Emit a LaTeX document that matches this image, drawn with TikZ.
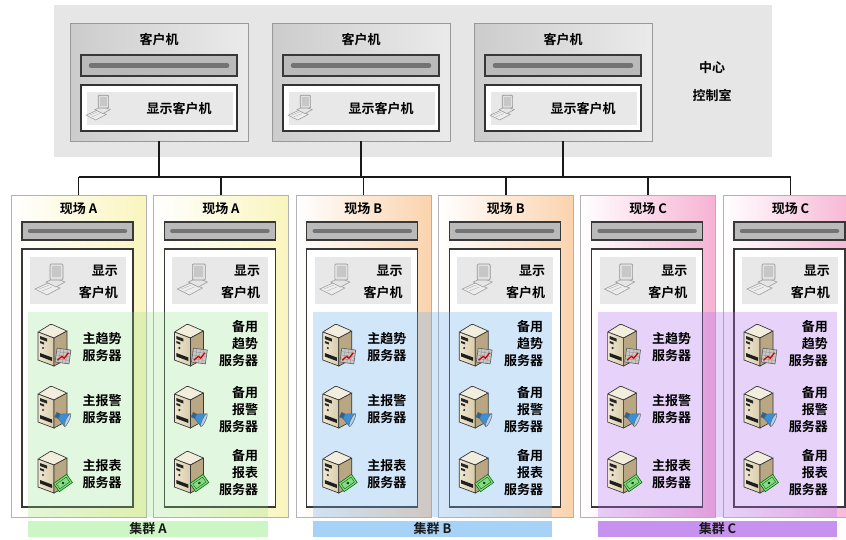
\documentclass[tikz,border=0pt]{standalone}
\usepackage{fontspec}
\setmainfont{Noto Sans CJK SC}[BoldFont={Noto Sans CJK SC Bold}]

\definecolor{roomgray}{HTML}{E6E6E6}
\definecolor{siteA}{HTML}{FAF5BE}
\definecolor{siteB}{HTML}{FBD3AE}
\definecolor{siteC}{HTML}{F6B2D3}
\definecolor{clA}{HTML}{8FE080}
\definecolor{clB}{HTML}{6AAEF0}
\definecolor{clC}{HTML}{B070F0}
\definecolor{bandA}{HTML}{CCF6C4}
\definecolor{bandB}{HTML}{A6D2F7}
\definecolor{bandC}{HTML}{C792EF}
\definecolor{srvtop}{HTML}{F3EDDD}
\definecolor{srvfl}{HTML}{EFE7D2}
\definecolor{srvfr}{HTML}{D9CCAA}
\definecolor{srvside}{HTML}{B9A784}
\definecolor{alarmblue}{HTML}{3A8FD8}
\definecolor{cashgreen}{HTML}{8AD68A}

\tikzset{
  room/.style={fill=roomgray, draw=none, inner sep=0, outer sep=0},
  clientbox/.style={draw=black!40, left color=black!20, right color=black!8, inner sep=0, outer sep=0},
  sitebox/.style={draw=black!30, left color=white, inner sep=0, outer sep=0},
  barbox/.style={draw=black!78, line width=1.1, fill=black!27},
  barline/.style={draw=black!55, line width=4.5, line cap=round},
  dispbox/.style={draw=black!80, line width=1.3, fill=white},
  dispinner/.style={fill=black!9},
  innerbox/.style={draw=black!78, line width=1.3, fill=white},
  wire/.style={draw=black!90, line width=1.6},
  lbl/.style={font=\fontsize{13}{17}\selectfont\bfseries, text=black, inner sep=0},
  band/.style={inner sep=0, outer sep=0, minimum height=16, font=\fontsize{13}{16}\selectfont\bfseries, text=black!90},
  % desktop computer drawn in light grey
  pcicon/.pic={
    \draw[black!38, fill=black!7, line width=.6] (-16,9) -- (-3,3) -- (9,8) -- (-4,15) -- cycle;
    \draw[black!30, line width=.4] (-12,9) -- (-2,5) (-9,11) -- (1,7);
    \draw[black!38, fill=black!10, line width=.6] (-5,2) -- (4,-2) -- (14,2) -- (5,7) -- cycle;
    \draw[black!42, fill=black!12, line width=.6, rounded corners=1] (-1,-16) rectangle (12,0);
    \fill[black!22] (1,-14) rectangle (10,-3);
  },
  % tower server
  srv/.pic={
    \draw[black!78, line width=.7, fill=srvtop, rounded corners=1] (-14,-12) -- (-1,-20) -- (15,-13) -- (2,-6) -- cycle;
    \draw[black!78, line width=.7, left color=srvfl, right color=srvfr] (-14,-12) -- (2,-6) -- (2,22) -- (-14,16) -- cycle;
    \draw[black!78, line width=.7, fill=srvside] (2,-6) -- (15,-13) -- (15,15) -- (2,22) -- cycle;
    \fill[black!85] (-12,-8) -- (-5,-5.4) -- (-5,-2.4) -- (-12,-5) -- cycle;
    \fill[black!85] (-12,-3) -- (-8,-1.5) -- (-8,0.5) -- (-12,-1) -- cycle;
    \fill[black!80] (-9,4) circle (1.2);
    \fill[black!88] (-12,9) -- (0,13.5) -- (0,17) -- (-12,12.5) -- cycle;
  },
  % trend chart badge
  trendbadge/.pic={
    \begin{scope}[rotate=-8]
      \draw[black!65, fill=black!22, line width=.6] (-7,-7) rectangle (7,7);
      \draw[black!45, line width=.3] (-7,-3.5) -- (7,-3.5) (-7,0) -- (7,0) (-7,3.5) -- (7,3.5)
        (-3.5,-7) -- (-3.5,7) (0,-7) -- (0,7) (3.5,-7) -- (3.5,7);
      \draw[red!85!black, line width=1.3] (-5,5) -- (-1,0.5) -- (1.5,2) -- (5,-4);
    \end{scope}
  },
  % megaphone badge
  alarmbadge/.pic={
    \begin{scope}[rotate=-25]
      \draw[black!60, fill=alarmblue!70!black, line width=.5] (-8,-2.5) rectangle (-4,2.5);
      \draw[black!60, fill=alarmblue, line width=.5] (-4,-2.5) -- (5,-7) -- (5,7) -- (-4,2.5) -- cycle;
      \draw[black!60, fill=alarmblue!40, line width=.5] (5,0) ellipse (1.6 and 7);
    \end{scope}
  },
  % banknote badge
  reportbadge/.pic={
    \begin{scope}[rotate=35]
      \draw[green!45!black, fill=cashgreen, line width=.6] (-8,-5) rectangle (8,5);
      \draw[green!45!black, line width=.4] (-6,-3) rectangle (6,3);
      \fill[green!35!black] (0,0) circle (1.5);
    \end{scope}
  },
}

\begin{document}
\begin{tikzpicture}[x=1pt, y=-1pt]
\useasboundingbox (0,0) rectangle (846,539);
\clip (0,0) rectangle (846,539);

% ---------- central control room ----------
\node[room, minimum width=718, minimum height=152] (room) at (413,81) {};
\node[lbl, align=center, font=\fontsize{13}{28}\selectfont\bfseries] (roomlbl) at (712,82) {中心\\控制室};

\foreach \i/\cx in {1/159, 2/361, 3/563} {
  \node[clientbox, minimum width=178, minimum height=118] (cl\i) at (\cx,82) {};
  \node[lbl] (clt\i) at (\cx,40) {客户机};
  \draw[barbox] ({\cx-78},55) rectangle ({\cx+78},76);
  \draw[barline] ({\cx-68},65.5) -- ({\cx+68},65.5);
  \draw[dispbox] ({\cx-78},85) rectangle ({\cx+78},131);
  \fill[dispinner] ({\cx-72},92) rectangle ({\cx+74},125);
  \pic[scale=.8] at ({\cx-60},108) {pcicon};
  \node[lbl] (cld\i) at ({\cx+20},108.5) {显示客户机};
}

% ---------- field sites ----------
\foreach \i/\L/\g in {1/11/A, 2/153.4/A, 3/295.8/B, 4/438.2/B, 5/580.6/C, 6/723/C} {
  \node[sitebox, right color=site\g, minimum width=135, minimum height=322] (site\i) at ({\L+67.5},356) {};
  \node[lbl] (sitet\i) at ({\L+67.5},208.5) {现场 \g};
  \draw[barbox] ({\L+11},222) rectangle ({\L+122},240);
  \draw[barline] ({\L+19},231) -- ({\L+114},231);
  \draw[innerbox] ({\L+11},249) rectangle ({\L+122},507);
  \fill[dispinner] ({\L+19},257) rectangle ({\L+115},304);
  \pic at ({\L+40},280) {pcicon};
  \node[lbl, align=right, anchor=east, font=\fontsize{13}{22}\selectfont\bfseries] (disp\i) at ({\L+107},281.5) {显示\\客户机};
}

% ---------- network ----------
\coordinate (bus) at (0,177);
\foreach \i in {1,2,3} {
  \draw[wire] (cl\i.south) -- (cl\i.south |- bus);
}
\draw[wire] (site1.north |- bus) -- (site6.north |- bus);
\foreach \i in {1,...,6} {
  \draw[wire] (site\i.north |- bus) -- (site\i.north);
}

% ---------- clusters ----------
\fill[clA, opacity=.25] (28,312) rectangle (268,517);
\fill[clB, opacity=.3] (313,312) rectangle (552,517);
\fill[clC, opacity=.3] (598,312) rectangle (837,517);

% main servers
\foreach \i/\L in {1/11, 3/295.8, 5/580.6} {
  \pic at ({\L+41},344) {srv};
  \pic at ({\L+52},356) {trendbadge};
  \node[lbl, align=center] (trend\i) at ({\L+91},347) {主趋势\\服务器};
  \pic at ({\L+41},406) {srv};
  \pic at ({\L+52},418) {alarmbadge};
  \node[lbl, align=center] (alarm\i) at ({\L+91},409.5) {主报警\\服务器};
  \pic at ({\L+41},471) {srv};
  \pic at ({\L+52},483) {reportbadge};
  \node[lbl, align=center] (report\i) at ({\L+91},474.5) {主报表\\服务器};
}

% backup servers
\foreach \i/\L in {2/153.4, 4/438.2, 6/723} {
  \pic at ({\L+35},344) {srv};
  \pic at ({\L+46},356) {trendbadge};
  \node[lbl, align=right, anchor=east] (trend\i) at ({\L+105},343.5) {备用\\趋势\\服务器};
  \pic at ({\L+35},406) {srv};
  \pic at ({\L+46},418) {alarmbadge};
  \node[lbl, align=right, anchor=east] (alarm\i) at ({\L+105},409.5) {备用\\报警\\服务器};
  \pic at ({\L+35},471) {srv};
  \pic at ({\L+46},483) {reportbadge};
  \node[lbl, align=right, anchor=east] (report\i) at ({\L+105},473) {备用\\报表\\服务器};
}

% cluster labels
\node[band, fill=bandA, minimum width=240] (bandA) at (148,529) {集群 A};
\node[band, fill=bandB, minimum width=239] (bandB) at (432.5,529) {集群 B};
\node[band, fill=bandC, minimum width=239] (bandC) at (717.5,529) {集群 C};
\end{tikzpicture}
\end{document}
